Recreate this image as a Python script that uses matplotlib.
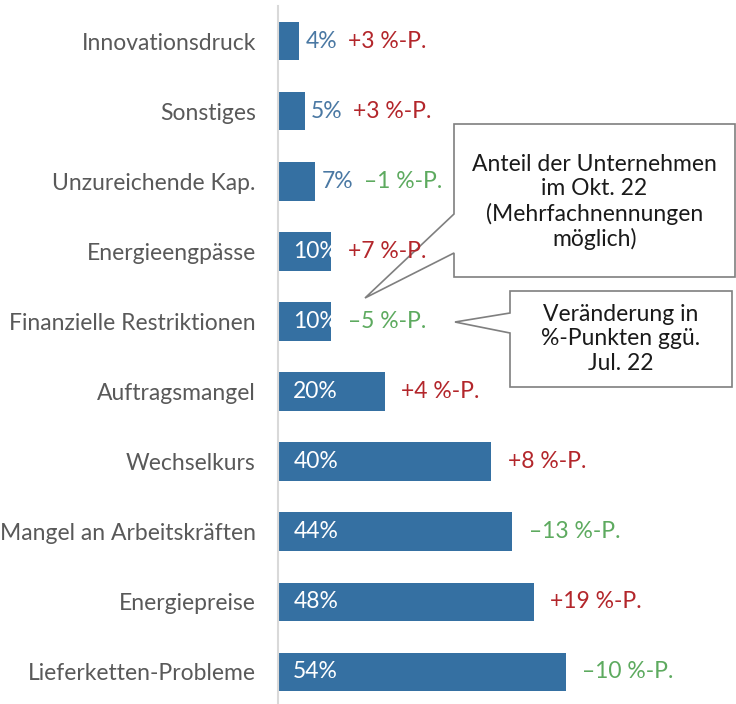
import matplotlib
matplotlib.use("Agg")
import matplotlib.pyplot as plt
from matplotlib.patches import Polygon

# Hemmnisse der Unternehmen, Anteil in % (Okt. 22) und Veränderung ggü. Jul. 22
categories = ["Innovationsdruck", "Sonstiges", "Unzureichende Kap.", "Energieengpässe",
              "Finanzielle Restriktionen", "Auftragsmangel", "Wechselkurs",
              "Mangel an Arbeitskräften", "Energiepreise", "Lieferketten-Probleme"]
shares = [4, 5, 7, 10, 10, 20, 40, 44, 48, 54]
changes = [3, 3, -1, 7, -5, 4, 8, -13, 19, -10]

callout_share = ["Anteil der Unternehmen", "im Okt. 22", "(Mehrfachnennungen", "möglich)"]
callout_change = ["Veränderung in", "%-Punkten ggü.", "Jul. 22"]

plt.rcParams["font.family"] = ["Lato", "DejaVu Sans"]

W, H = 736, 704
BAR = "#3570a2"
GREY = "#595959"
RED = "#b3262b"
GREEN = "#5daa5f"
FS = 16.5

fig = plt.figure(figsize=(W / 100, H / 100), dpi=100)
ax = fig.add_axes([278 / W, 0, 1 - 278 / W, 1 - 6 / H])

y = list(range(len(categories)))
ax.barh(y, shares, height=0.55, color=BAR, zorder=2)
ax.set_xlim(0, 86)
ax.set_ylim(9.458, -0.5)
ax.set_yticks(y)
ax.set_yticklabels(categories, fontsize=FS, color=GREY)
ax.tick_params(axis="y", length=0, pad=16)
ax.set_xticks([])
for s in ["top", "right", "bottom"]:
    ax.spines[s].set_visible(False)
ax.spines["left"].set_color("#d9d9d9")
ax.spines["left"].set_linewidth(1.5)

for i, (v, c) in enumerate(zip(shares, changes)):
    if v >= 10:
        # Wert im Balken
        ax.annotate(f"{v}%", (0, i), xytext=(11, 0), textcoords="offset points",
                    ha="left", va="center", color="white", fontsize=FS, zorder=3)
        off = 12
    else:
        ax.annotate(f"{v}%", (v, i), xytext=(4.5, 0), textcoords="offset points",
                    ha="left", va="center", color="#4a78a3", fontsize=FS, zorder=3)
        off = 35
    txt = f"+{c} %-P." if c > 0 else f"\u2013{abs(c)} %-P."
    ax.annotate(txt, (v, i), xytext=(off, 0), textcoords="offset points",
                ha="left", va="center", color=RED if c > 0 else GREEN,
                fontsize=FS, zorder=5)


def px(x, yy):
    return (x / W, 1 - yy / H)


def callout(x0, y0, x1, y1, base_top, base_bot, tip, lines, cy):
    pts = [px(x0, y0), px(x1, y0), px(x1, y1), px(x0, y1),
           px(x0, base_bot), px(*tip), px(x0, base_top)]
    # Sprechblase unter den Beschriftungen, damit "+7 %-P." sichtbar bleibt
    poly = Polygon(pts, closed=True, transform=fig.transFigure, facecolor="none",
                   edgecolor="#7f7f7f", linewidth=1.2, zorder=4, clip_on=False)
    ax.add_patch(poly)
    fig.text((x0 + x1) / 2 / W, 1 - cy / H, "\n".join(lines), ha="center", va="center",
             fontsize=FS, color="#1a1a1a", linespacing=1.2, zorder=6)


callout(454, 124, 735, 277, 214, 253, (365, 298), callout_share, 202)
callout(510, 291, 732, 387, 313, 333, (455, 322), callout_change, 339)

fig.savefig("out.png", dpi=100)
